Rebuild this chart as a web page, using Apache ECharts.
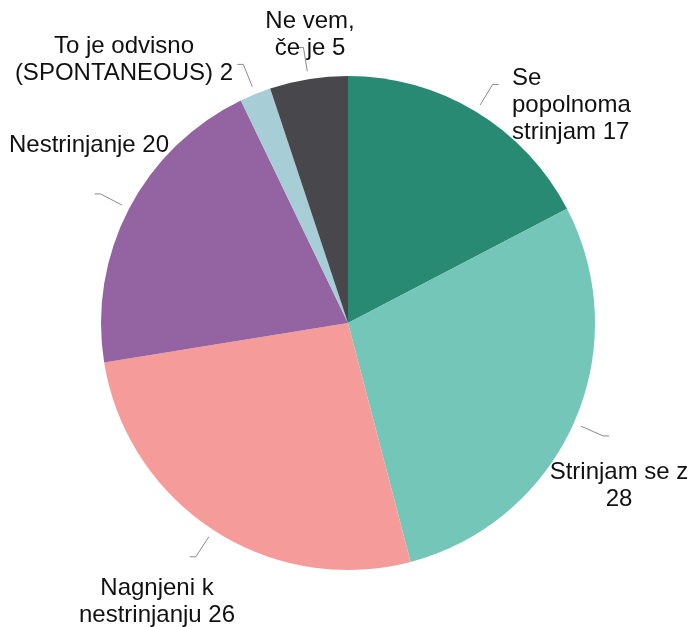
<!DOCTYPE html>
<html>
<head>
<meta charset="utf-8">
<script src="https://cdn.jsdelivr.net/npm/echarts@6/dist/echarts.min.js"></script>
<style>
  html, body { margin: 0; padding: 0; background: #fff; }
  #main { width: 694px; height: 627px; }
</style>
</head>
<body>
<div id="main"></div>
<script>
  // chart data
  var categories = [
    'Se\npopolnoma\nstrinjam',
    'Strinjam se z',
    'Nagnjeni k\nnestrinjanju',
    'Nestrinjanje',
    'To je odvisno\n(SPONTANEOUS)',
    'Ne vem,\nče je'
  ];
  var values = [17, 28, 26, 20, 2, 5];
  var colors = ['#288a73', '#73c6b8', '#f59c9b', '#9463a1', '#a7cdd6', '#48484c'];

  var cx = 348, cy = 323, R = 247;
  // where each label block sits: [x, y, align]
  var labelSpots = [
    [512, 105, 'left'],
    [619, 486, 'center'],
    [157, 602, 'center'],
    [89, 145, 'center'],
    [124, 60, 'center'],
    [310, 35, 'center']
  ];

  var total = values.reduce(function (a, b) { return a + b; }, 0);
  function midAngle(i) {
    var before = 0;
    for (var k = 0; k < i; k++) before += values[k];
    return (before + values[i] / 2) / total * Math.PI * 2;
  }

  var myChart = echarts.init(document.getElementById('main'));
  var option = {
    backgroundColor: '#fff',
    animation: false,
    series: [{
      type: 'pie',
      center: [cx, cy],
      radius: [0, R],
      startAngle: 90,
      clockwise: true,
      data: values.map(function (v, i) {
        return { name: categories[i], value: v, itemStyle: { color: colors[i] } };
      }),
      label: {
        show: true,
        formatter: function (p) {
          // "Strinjam se z" wraps before the number
          return p.name + (p.dataIndex === 1 ? '\n' : ' ') + p.value;
        },
        overflow: 'none',
        fontFamily: 'Liberation Sans, Arial, sans-serif',
        fontSize: 24,
        lineHeight: 27,
        color: '#111'
      },
      labelLine: {
        show: true,
        length: 20,
        length2: 6,
        lineStyle: { color: '#8a8a8a', width: 1 }
      },
      labelLayout: function (params) {
        var i = params.dataIndex;
        var a = midAngle(i);
        var dx = Math.sin(a), dy = -Math.cos(a);
        var gap = 8, len = 24, h = 6;
        var p1 = [cx + dx * (R + gap), cy + dy * (R + gap)];
        var p2 = [cx + dx * (R + gap + len), cy + dy * (R + gap + len)];
        var p3 = [p2[0] + (dx < 0 ? -h : h), p2[1]];
        var s = labelSpots[i];
        return {
          x: s[0],
          y: s[1],
          align: s[2],
          verticalAlign: 'middle',
          labelLinePoints: [p1, p2, p3]
        };
      }
    }]
  };
  myChart.setOption(option);
</script>
</body>
</html>
